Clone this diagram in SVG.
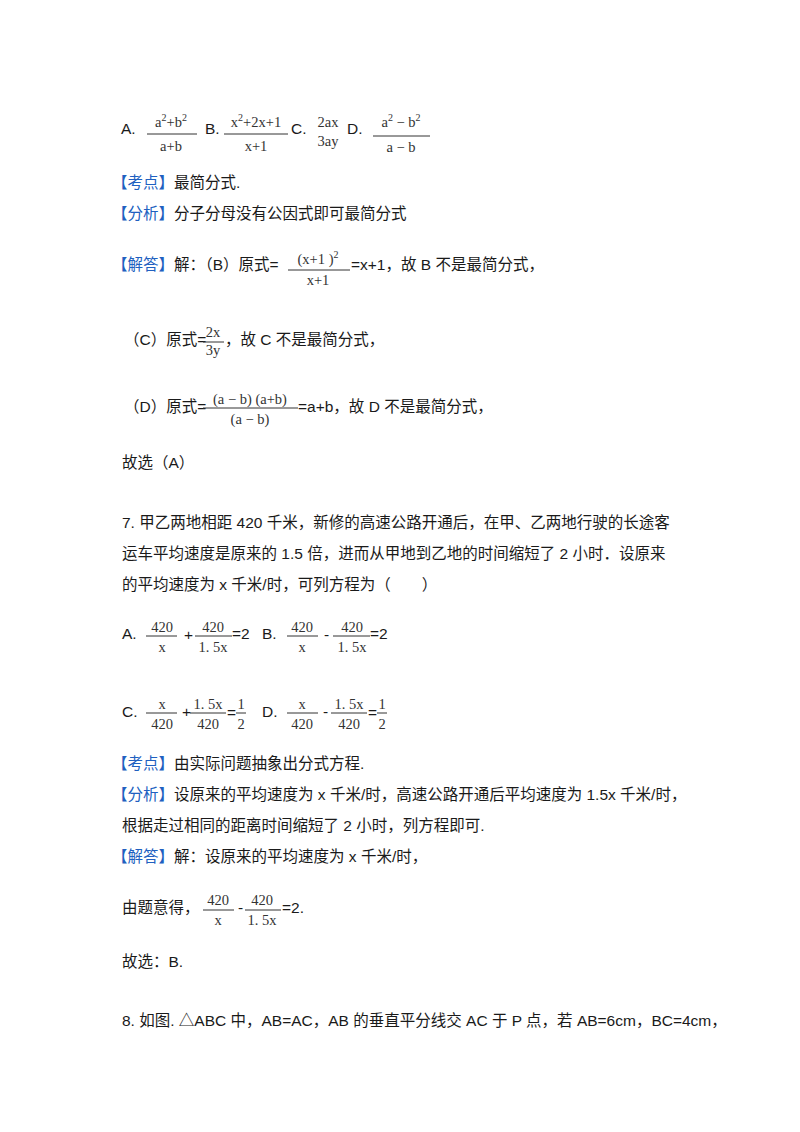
<svg xmlns="http://www.w3.org/2000/svg" width="800" height="1132" viewBox="0 0 800 1132">
<style>
text{font-family:"Liberation Sans","Noto Sans CJK SC",sans-serif;font-size:15.5px;fill:#1a1a1a}
.b{fill:#2060c0}
.m{font-family:"Liberation Serif","Noto Sans CJK SC",serif;font-size:14.5px;fill:#333}
.c{text-anchor:middle}
line{stroke:#333;stroke-width:1}
</style>
<rect width="800" height="1132" fill="#fff"/>
<text x="121" y="134">A.</text>
<text class="m c" x="171" y="127">a<tspan dy="-6" font-size="10">2</tspan><tspan dy="6">+b</tspan><tspan dy="-6" font-size="10">2</tspan></text>
<line x1="147" y1="134" x2="197" y2="134"/>
<text class="m c" x="171" y="151">a+b</text>
<text x="205" y="134">B.</text>
<text class="m c" x="256" y="127">x<tspan dy="-6" font-size="10">2</tspan><tspan dy="6">+2x+1</tspan></text>
<line x1="224" y1="134" x2="288" y2="134"/>
<text class="m c" x="256" y="151">x+1</text>
<text x="291" y="134">C.</text>
<text class="m c" x="328" y="127">2ax</text>
<text class="m c" x="328" y="146">3ay</text>
<text x="347" y="134">D.</text>
<text class="m c" x="401" y="127">a<tspan dy="-6" font-size="10">2</tspan><tspan dy="6"> − b</tspan><tspan dy="-6" font-size="10">2</tspan></text>
<line x1="373" y1="136" x2="430" y2="136"/>
<text class="m c" x="401" y="152">a − b</text>

<text x="112" y="188"><tspan class="b">【考点】</tspan>最简分式.</text>
<text x="112" y="219"><tspan class="b">【分析】</tspan>分子分母没有公因式即可最简分式</text>
<text x="112" y="270"><tspan class="b">【解答】</tspan>解：（B）原式=</text>
<text class="m c" x="318" y="264">(x+1 )<tspan dy="-6" font-size="10">2</tspan></text>
<line x1="288" y1="270" x2="350" y2="270"/>
<text class="m c" x="318" y="285">x+1</text>
<text x="351" y="270">=x+1，故 B 不是最简分式，</text>

<text x="124" y="345">（C）原式=</text>
<text class="m c" x="213" y="337">2x</text>
<line x1="203" y1="342" x2="224" y2="342"/>
<text class="m c" x="213" y="355">3y</text>
<text x="225" y="345">，故 C 不是最简分式，</text>

<text x="124" y="412">（D）原式=</text>
<text class="m c" x="250" y="404">(a − b) (a+b)</text>
<line x1="203" y1="408" x2="298" y2="408"/>
<text class="m c" x="250" y="424">(a − b)</text>
<text x="298" y="412">=a+b，故 D 不是最简分式，</text>

<text x="122" y="468">故选（A）</text>

<text x="122" y="528">7. 甲乙两地相距 420 千米，新修的高速公路开通后，在甲、乙两地行驶的长途客</text>
<text x="122" y="559">运车平均速度是原来的 1.5 倍，进而从甲地到乙地的时间缩短了 2 小时．设原来</text>
<text x="122" y="590">的平均速度为 x 千米/时，可列方程为（　　）</text>

<text x="122" y="639">A.</text>
<text class="m c" x="162" y="632">420</text><line x1="146" y1="636" x2="177" y2="636"/><text class="m c" x="162" y="652">x</text>
<text x="184" y="640">+</text>
<text class="m c" x="213" y="632">420</text><line x1="195" y1="636" x2="232" y2="636"/><text class="m c" x="213" y="652">1. 5x</text>
<text x="232" y="639">=2</text>
<text x="262" y="639">B.</text>
<text class="m c" x="302" y="632">420</text><line x1="287" y1="636" x2="318" y2="636"/><text class="m c" x="302" y="652">x</text>
<text x="324" y="640">-</text>
<text class="m c" x="352" y="632">420</text><line x1="333" y1="636" x2="370" y2="636"/><text class="m c" x="352" y="652">1. 5x</text>
<text x="370" y="639">=2</text>

<text x="122" y="717">C.</text>
<text class="m c" x="162" y="709">x</text><line x1="146" y1="713" x2="177" y2="713"/><text class="m c" x="162" y="729">420</text>
<text x="182" y="717">+</text>
<text class="m c" x="208" y="709">1. 5x</text><line x1="190" y1="713" x2="226" y2="713"/><text class="m c" x="208" y="729">420</text>
<text x="227" y="718" font-size="13">=</text>
<text class="m c" x="241" y="709">1</text><line x1="236" y1="713" x2="246" y2="713"/><text class="m c" x="241" y="729">2</text>
<text x="262" y="717">D.</text>
<text class="m c" x="302" y="709">x</text><line x1="287" y1="713" x2="318" y2="713"/><text class="m c" x="302" y="729">420</text>
<text x="323" y="717">-</text>
<text class="m c" x="349" y="709">1. 5x</text><line x1="331" y1="713" x2="367" y2="713"/><text class="m c" x="349" y="729">420</text>
<text x="368" y="718" font-size="13">=</text>
<text class="m c" x="382" y="709">1</text><line x1="377" y1="713" x2="387" y2="713"/><text class="m c" x="382" y="729">2</text>

<text x="112" y="769"><tspan class="b">【考点】</tspan>由实际问题抽象出分式方程.</text>
<text x="112" y="800"><tspan class="b">【分析】</tspan>设原来的平均速度为 x 千米/时，高速公路开通后平均速度为 1.5x 千米/时，</text>
<text x="122" y="831">根据走过相同的距离时间缩短了 2 小时，列方程即可.</text>
<text x="112" y="862"><tspan class="b">【解答】</tspan>解：设原来的平均速度为 x 千米/时，</text>

<text x="122" y="913">由题意得，</text>
<text class="m c" x="218" y="905">420</text><line x1="203" y1="910" x2="234" y2="910"/><text class="m c" x="218" y="925">x</text>
<text x="238" y="913">-</text>
<text class="m c" x="262" y="905">420</text><line x1="245" y1="910" x2="281" y2="910"/><text class="m c" x="262" y="925">1. 5x</text>
<text x="282" y="913">=2.</text>

<text x="122" y="967">故选：B.</text>
<text x="122" y="1026">8. 如图. △ABC 中，AB=AC，AB 的垂直平分线交 AC 于 P 点，若 AB=6cm，BC=4cm，</text>
</svg>
